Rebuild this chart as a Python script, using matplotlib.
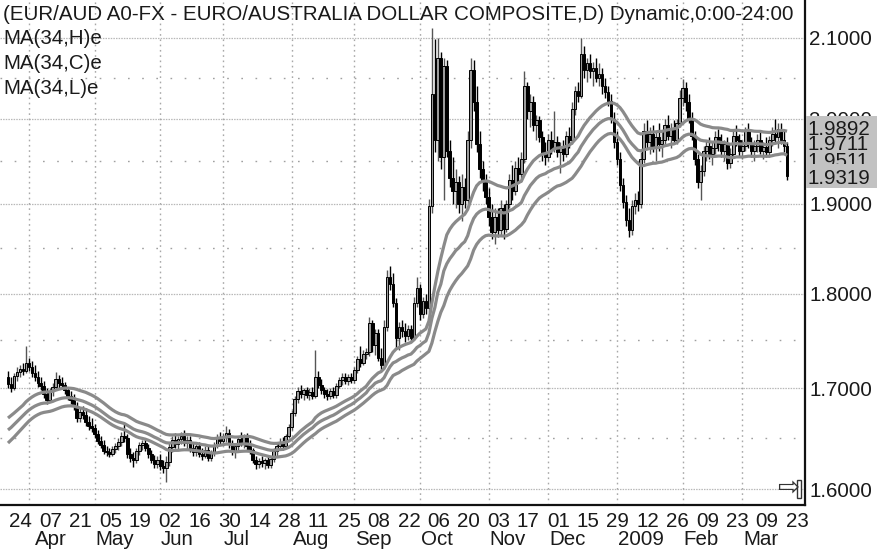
import numpy as np
import pandas as pd
import matplotlib
matplotlib.use('Agg')
import matplotlib.pyplot as plt
import matplotlib.transforms as mtransforms
from matplotlib.patches import Rectangle
from matplotlib.ticker import FixedLocator, FixedFormatter, NullFormatter

plt.rcParams['font.family'] = ['Liberation Sans', 'DejaVu Sans']

# daily EUR/AUD bars, first bar on 21 Mar 2008
start_date = '2008-03-21'

opens = [
    1.712, 1.705, 1.700, 1.713, 1.717, 1.720, 1.718, 1.726, 1.722, 1.716,
    1.712, 1.706, 1.703, 1.694, 1.688, 1.697, 1.702, 1.710, 1.706, 1.704,
    1.698, 1.692, 1.688, 1.682, 1.670, 1.676, 1.673, 1.666, 1.662, 1.660,
    1.654, 1.647, 1.643, 1.637, 1.636, 1.634, 1.639, 1.642, 1.646, 1.652,
    1.650, 1.634, 1.630, 1.628, 1.637, 1.643, 1.645, 1.640, 1.634, 1.628,
    1.624, 1.628, 1.622, 1.620, 1.626, 1.641, 1.648, 1.644, 1.649, 1.652,
    1.645, 1.648, 1.640, 1.636, 1.642, 1.634, 1.632, 1.638, 1.630, 1.635,
    1.643, 1.650, 1.647, 1.652, 1.655, 1.644, 1.636, 1.642, 1.649, 1.645,
    1.651, 1.642, 1.638, 1.628, 1.624, 1.627, 1.625, 1.628, 1.623, 1.629,
    1.637, 1.642, 1.646, 1.642, 1.652, 1.661, 1.675, 1.689, 1.697, 1.694,
    1.698, 1.693, 1.696, 1.692, 1.712, 1.704, 1.698, 1.694, 1.692, 1.697,
    1.693, 1.703, 1.709, 1.712, 1.708, 1.712, 1.709, 1.719, 1.730, 1.726,
    1.736, 1.738, 1.768, 1.745, 1.758, 1.732, 1.724, 1.764, 1.818, 1.810,
    1.790, 1.752, 1.764, 1.760, 1.755, 1.762, 1.752, 1.790, 1.806, 1.778,
    1.792, 1.784, 1.898, 2.030, 1.975, 2.075, 1.955, 2.065, 1.962, 1.930,
    1.915, 1.925, 1.900, 1.920, 1.905, 1.975, 2.060, 2.020, 1.970, 1.940,
    1.925, 1.908, 1.885, 1.868, 1.885, 1.870, 1.895, 1.872, 1.900, 1.928,
    1.915, 1.942, 1.935, 1.952, 2.040, 2.010, 2.020, 1.992, 1.998, 1.978,
    1.958, 1.955, 1.975, 1.965, 1.972, 1.960, 1.966, 1.958, 1.980, 1.975,
    2.012, 2.034, 2.028, 2.080, 2.060, 2.068, 2.058, 2.062, 2.050, 2.055,
    2.040, 2.032, 2.022, 2.000, 1.972, 1.952, 1.922, 1.902, 1.882, 1.870,
    1.898, 1.905, 1.900, 1.952, 1.985, 1.972, 1.982, 1.966, 1.978, 1.970,
    1.975, 1.992, 1.980, 1.988, 1.975, 1.995, 2.025, 2.038, 2.020, 2.000,
    1.980, 1.952, 1.925, 1.938, 1.962, 1.968, 1.958, 1.965, 1.978, 1.970,
    1.962, 1.970, 1.948, 1.958, 1.980, 1.975, 1.962, 1.968, 1.985, 1.970,
    1.962, 1.968, 1.975, 1.962, 1.966, 1.960, 1.975, 1.982, 1.978, 1.988,
    1.975, 1.968,
]

highs = [
    1.718, 1.712, 1.716, 1.722, 1.724, 1.726, 1.744, 1.732, 1.728, 1.724,
    1.718, 1.712, 1.708, 1.700, 1.700, 1.706, 1.717, 1.714, 1.712, 1.707,
    1.702, 1.697, 1.694, 1.686, 1.680, 1.682, 1.680, 1.672, 1.670, 1.664,
    1.658, 1.652, 1.648, 1.642, 1.640, 1.642, 1.645, 1.650, 1.656, 1.664,
    1.654, 1.640, 1.636, 1.640, 1.646, 1.648, 1.649, 1.644, 1.638, 1.633,
    1.632, 1.634, 1.628, 1.632, 1.645, 1.652, 1.655, 1.652, 1.656, 1.658,
    1.652, 1.652, 1.646, 1.645, 1.646, 1.640, 1.642, 1.642, 1.638, 1.646,
    1.654, 1.656, 1.655, 1.662, 1.659, 1.648, 1.645, 1.652, 1.656, 1.654,
    1.655, 1.648, 1.640, 1.632, 1.630, 1.632, 1.630, 1.632, 1.631, 1.640,
    1.645, 1.650, 1.651, 1.654, 1.664, 1.678, 1.692, 1.702, 1.704, 1.700,
    1.702, 1.700, 1.702, 1.740, 1.718, 1.710, 1.702, 1.699, 1.700, 1.701,
    1.706, 1.712, 1.716, 1.716, 1.715, 1.716, 1.722, 1.734, 1.744, 1.740,
    1.742, 1.775, 1.772, 1.762, 1.762, 1.742, 1.772, 1.826, 1.830, 1.822,
    1.795, 1.770, 1.772, 1.768, 1.766, 1.766, 1.796, 1.818, 1.810, 1.796,
    1.800, 1.906, 2.113, 2.098, 2.100, 2.082, 2.075, 2.072, 1.975, 1.955,
    1.940, 1.932, 1.935, 1.930, 1.985, 2.075, 2.072, 2.040, 1.985, 1.950,
    1.935, 1.918, 1.900, 1.895, 1.895, 1.905, 1.900, 1.905, 1.935, 1.945,
    1.950, 1.955, 1.960, 2.058, 2.045, 2.030, 2.028, 2.005, 2.004, 1.985,
    1.972, 1.982, 1.985, 2.010, 1.980, 1.972, 1.975, 1.985, 1.990, 2.020,
    2.040, 2.045, 2.100, 2.090, 2.075, 2.080, 2.070, 2.075, 2.068, 2.062,
    2.050, 2.040, 2.030, 2.008, 1.985, 1.960, 1.930, 1.910, 1.895, 1.905,
    1.912, 1.915, 1.960, 1.995, 1.998, 1.990, 1.992, 1.985, 1.995, 1.985,
    2.000, 2.005, 1.995, 1.998, 2.000, 2.035, 2.048, 2.045, 2.030, 2.008,
    1.985, 1.958, 1.945, 1.968, 1.975, 1.978, 1.972, 1.985, 1.988, 1.982,
    1.975, 1.978, 1.965, 1.985, 1.992, 1.982, 1.975, 1.990, 1.995, 1.978,
    1.975, 1.982, 1.985, 1.972, 1.978, 1.980, 1.990, 2.000, 1.995, 1.995,
    1.985, 1.972,
]

lows = [
    1.700, 1.696, 1.698, 1.708, 1.712, 1.714, 1.716, 1.718, 1.712, 1.708,
    1.702, 1.698, 1.690, 1.684, 1.686, 1.692, 1.698, 1.700, 1.700, 1.694,
    1.688, 1.684, 1.678, 1.666, 1.666, 1.669, 1.662, 1.658, 1.656, 1.650,
    1.644, 1.640, 1.634, 1.632, 1.631, 1.632, 1.635, 1.638, 1.642, 1.646,
    1.630, 1.626, 1.621, 1.625, 1.633, 1.638, 1.637, 1.630, 1.625, 1.620,
    1.620, 1.618, 1.616, 1.607, 1.622, 1.636, 1.640, 1.638, 1.644, 1.642,
    1.638, 1.636, 1.632, 1.632, 1.631, 1.628, 1.630, 1.627, 1.627, 1.632,
    1.640, 1.644, 1.643, 1.646, 1.640, 1.633, 1.630, 1.638, 1.642, 1.640,
    1.638, 1.634, 1.625, 1.619, 1.620, 1.621, 1.619, 1.620, 1.620, 1.626,
    1.632, 1.638, 1.638, 1.640, 1.650, 1.658, 1.672, 1.685, 1.690, 1.688,
    1.690, 1.688, 1.689, 1.690, 1.700, 1.694, 1.690, 1.688, 1.689, 1.690,
    1.690, 1.700, 1.704, 1.705, 1.704, 1.706, 1.706, 1.716, 1.722, 1.724,
    1.730, 1.734, 1.738, 1.735, 1.728, 1.718, 1.722, 1.760, 1.804, 1.786,
    1.742, 1.740, 1.754, 1.748, 1.750, 1.748, 1.750, 1.786, 1.772, 1.774,
    1.778, 1.780, 1.890, 1.960, 1.950, 1.940, 1.905, 1.955, 1.920, 1.900,
    1.895, 1.890, 1.880, 1.895, 1.900, 1.965, 2.010, 1.960, 1.930, 1.915,
    1.900, 1.875, 1.860, 1.855, 1.862, 1.865, 1.860, 1.868, 1.895, 1.905,
    1.910, 1.925, 1.925, 1.948, 2.000, 1.990, 1.985, 1.975, 1.972, 1.950,
    1.945, 1.950, 1.958, 1.960, 1.955, 1.936, 1.950, 1.955, 1.965, 1.970,
    2.005, 2.020, 2.025, 2.050, 2.045, 2.050, 2.040, 2.045, 2.040, 2.030,
    2.025, 2.015, 1.995, 1.965, 1.945, 1.915, 1.895, 1.875, 1.862, 1.865,
    1.888, 1.892, 1.895, 1.948, 1.965, 1.958, 1.960, 1.950, 1.962, 1.955,
    1.968, 1.975, 1.965, 1.970, 1.970, 1.990, 2.015, 2.010, 1.995, 1.975,
    1.945, 1.918, 1.905, 1.932, 1.950, 1.952, 1.945, 1.958, 1.962, 1.955,
    1.950, 1.940, 1.942, 1.955, 1.968, 1.955, 1.952, 1.962, 1.965, 1.955,
    1.950, 1.960, 1.958, 1.952, 1.955, 1.955, 1.968, 1.972, 1.965, 1.970,
    1.960, 1.928,
]

closes = [
    1.705, 1.700, 1.713, 1.717, 1.720, 1.718, 1.726, 1.722, 1.716, 1.712,
    1.706, 1.703, 1.694, 1.688, 1.697, 1.702, 1.710, 1.706, 1.704, 1.698,
    1.692, 1.688, 1.682, 1.670, 1.676, 1.673, 1.666, 1.662, 1.660, 1.654,
    1.647, 1.643, 1.637, 1.636, 1.634, 1.639, 1.642, 1.646, 1.652, 1.650,
    1.634, 1.630, 1.628, 1.637, 1.643, 1.645, 1.640, 1.634, 1.628, 1.624,
    1.628, 1.622, 1.620, 1.626, 1.641, 1.648, 1.644, 1.649, 1.652, 1.645,
    1.648, 1.640, 1.636, 1.642, 1.634, 1.632, 1.638, 1.630, 1.635, 1.643,
    1.650, 1.647, 1.652, 1.655, 1.644, 1.636, 1.642, 1.649, 1.645, 1.651,
    1.642, 1.638, 1.628, 1.624, 1.627, 1.625, 1.628, 1.623, 1.629, 1.637,
    1.642, 1.646, 1.642, 1.652, 1.661, 1.675, 1.689, 1.697, 1.694, 1.698,
    1.693, 1.696, 1.692, 1.712, 1.704, 1.698, 1.694, 1.692, 1.697, 1.693,
    1.703, 1.709, 1.712, 1.708, 1.712, 1.709, 1.719, 1.730, 1.726, 1.736,
    1.738, 1.768, 1.745, 1.758, 1.732, 1.724, 1.764, 1.818, 1.810, 1.790,
    1.752, 1.764, 1.760, 1.755, 1.762, 1.752, 1.790, 1.806, 1.778, 1.792,
    1.784, 1.898, 2.030, 1.975, 2.075, 1.955, 2.065, 1.962, 1.930, 1.915,
    1.925, 1.900, 1.920, 1.905, 1.975, 2.060, 2.020, 1.970, 1.940, 1.925,
    1.908, 1.885, 1.868, 1.885, 1.870, 1.895, 1.872, 1.900, 1.928, 1.915,
    1.942, 1.935, 1.952, 2.040, 2.010, 2.020, 1.992, 1.998, 1.978, 1.958,
    1.955, 1.975, 1.965, 1.972, 1.960, 1.966, 1.958, 1.980, 1.975, 2.012,
    2.034, 2.028, 2.080, 2.060, 2.068, 2.058, 2.062, 2.050, 2.055, 2.040,
    2.032, 2.022, 2.000, 1.972, 1.952, 1.922, 1.902, 1.882, 1.870, 1.898,
    1.905, 1.900, 1.952, 1.985, 1.972, 1.982, 1.966, 1.978, 1.970, 1.975,
    1.992, 1.980, 1.988, 1.975, 1.995, 2.025, 2.038, 2.020, 2.000, 1.980,
    1.952, 1.925, 1.938, 1.962, 1.968, 1.958, 1.965, 1.978, 1.970, 1.962,
    1.970, 1.948, 1.958, 1.980, 1.975, 1.962, 1.968, 1.985, 1.970, 1.962,
    1.968, 1.975, 1.962, 1.966, 1.960, 1.975, 1.982, 1.978, 1.988, 1.975,
    1.968, 1.9319,
]

# EMA levels on the first bar (the averages carry history from before the window)
ma_start_high = 1.670
ma_start_close = 1.658
ma_start_low = 1.645
ma_period = 34

# last values printed in the right-hand boxes: MA(H), MA(C), MA(L), close
last_values = [1.9892, 1.9711, 1.9511, 1.9319]

price_ticks = [1.6, 1.7, 1.8, 1.9, 2.0, 2.1]
price_minor = [1.65, 1.75, 1.85, 1.95, 2.05]
month_names = ['Apr', 'May', 'Jun', 'Jul', 'Aug', 'Sep', 'Oct', 'Nov', 'Dec',
               '2009', 'Feb', 'Mar']
title = '(EUR/AUD A0-FX - EURO/AUSTRALIA DOLLAR COMPOSITE,D) Dynamic,0:00-24:00'
legend_names = ['MA(34,H)e', 'MA(34,C)e', 'MA(34,L)e']

FS = 14.8
TXT = '#1a1a1a'


def ema(values, seed, n):
    a = 2.0 / (n + 1)
    out = [seed]
    for v in values[1:]:
        out.append(out[-1] + a * (v - out[-1]))
    return np.array(out)


o = np.array(opens)
h = np.array(highs)
l = np.array(lows)
c = np.array(closes)
n = len(c)
x = np.arange(n)
dates = pd.bdate_range(start_date, periods=n)

ma_h = ema(h, ma_start_high, ma_period)
ma_c = ema(c, ma_start_close, ma_period)
ma_l = ema(l, ma_start_low, ma_period)

W, H = 878, 560
fig = plt.figure(figsize=(W / 100, H / 100), dpi=100)
fig.patch.set_facecolor('white')
ax = fig.add_axes([0, 55 / H, 805 / W, 505 / H])
ax.set_yscale('log')
ax.set_ylim(1.5847, 2.1485)
ax.set_xlim(-2.68, 267.0)

# grid: dense dots on the round prices, sparse ones halfway, dotted month lines
for p in price_ticks:
    ax.axhline(p, color='#b8b8b8', lw=0.9, ls=(0, (1.2, 0.9)), zorder=1)
for p in price_minor:
    ax.axhline(p, color='#a0a0a0', lw=1.0, ls=(0, (1.2, 9)), zorder=1)
month_pos = [i for i in range(1, n) if dates[i].month != dates[i - 1].month]
for m in month_pos:
    ax.axvline(m, color='#a8a8a8', lw=1.0, ls=(0, (1.2, 2.6)), zorder=1)

# candles: grey hollow-style bodies for up days, black for down days
up = c >= o
wick_col = np.where(up, '#555555', '#000000')
ax.vlines(x, l, h, colors=wick_col, lw=1.0, zorder=3)
bottom = np.minimum(o, c)
height = np.maximum(np.abs(c - o), 0.0015)
face = np.where(up, '#9c9c9c', '#000000')
ax.bar(x, height, bottom=bottom, width=0.9, color=face, edgecolor='#000000',
       linewidth=0.7, zorder=3)

# the three 34-day exponential averages
for series in (ma_h, ma_c, ma_l):
    ax.plot(x, series, color='#8a8a8a', lw=2.3, zorder=4, solid_capstyle='butt')

# axes frame: only bottom and right lines
for side in ('left', 'top'):
    ax.spines[side].set_visible(False)
for side in ('bottom', 'right'):
    ax.spines[side].set_color('#111111')
    ax.spines[side].set_linewidth(1.6)

ax.yaxis.tick_right()
ax.yaxis.set_major_locator(FixedLocator(price_ticks))
ax.yaxis.set_major_formatter(FixedFormatter(['%.4f' % p for p in price_ticks]))
ax.yaxis.set_minor_locator(FixedLocator(price_minor))
ax.yaxis.set_minor_formatter(NullFormatter())
ax.tick_params(axis='y', which='both', length=0, pad=3, labelsize=FS,
               labelcolor=TXT)
ax.set_xticks([])

# day numbers every two weeks and month names underneath
xt = mtransforms.blended_transform_factory(ax.transData, ax.transAxes)
tick_days = pd.date_range('2008-03-24', dates[-1], freq='14D')
for d in tick_days:
    i = int(np.searchsorted(dates, d))
    ax.text(i - 0.5, -22 / 505, d.strftime('%d'), transform=xt, ha='left',
            va='baseline', fontsize=FS, color=TXT, clip_on=False)
for k, (m, name) in enumerate(zip(month_pos, month_names)):
    shift = 2.0 if k == 0 else 0.3
    ax.text(m + shift, -40 / 505, name, transform=xt, ha='left', va='baseline',
            fontsize=FS, color=TXT, clip_on=False)

# header text
fig.text(3 / W, 1 - 14 / H, title, ha='left', va='center', fontsize=FS,
         color=TXT)
for k, name in enumerate(legend_names):
    fig.text(3 / W, 1 - (39 + 24.5 * k) / H, name, ha='left', va='center',
             fontsize=FS, color=TXT)

# value boxes on the price scale
fig.canvas.draw()
ypix = [H - ax.transData.transform((0, v))[1] for v in last_values]
box = '#c2c2c2'


def box_rect(top, bottom, z):
    fig.add_artist(Rectangle((806 / W, 1 - bottom / H), 72 / W, (bottom - top) / H,
                             transform=fig.transFigure, facecolor=box,
                             edgecolor='none', zorder=z))


def box_text(k, z):
    fig.text(808 / W, 1 - ypix[k] / H, '%.4f' % last_values[k], ha='left',
             va='center_baseline', fontsize=FS, color=TXT, zorder=z)


box_rect(ypix[0] - 12, ypix[3] + 12, 10)
box_text(2, 11)
box_rect(ypix[1] - 8, ypix[1] + 10, 12)
box_rect(ypix[3] - 12, ypix[3] + 12, 12)
box_text(0, 13)
box_text(1, 13)
box_text(3, 13)

# scroll marker in the lower right corner
fig.text(788 / W, 1 - 489 / H, '\u21e8', ha='center', va='center', fontsize=19,
         color='#333333', family='DejaVu Sans')
fig.add_artist(Rectangle((797 / W, 1 - 498 / H), 4 / W, 18 / H,
                         transform=fig.transFigure, facecolor='white',
                         edgecolor='#333333', lw=1.0))

fig.savefig('out.png', dpi=100)
